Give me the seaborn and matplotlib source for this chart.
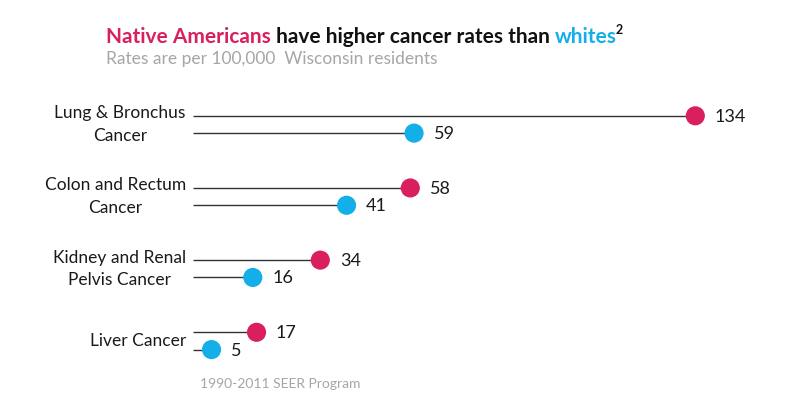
import numpy as np
import pandas as pd
import matplotlib
matplotlib.use('Agg')
import matplotlib.pyplot as plt
import seaborn as sns

sns.set_style('white')
plt.rcParams['font.family'] = ['Lato', 'DejaVu Sans']

# data
cancers = ['Lung & Bronchus\nCancer', 'Colon and Rectum\nCancer',
           'Kidney and Renal\nPelvis Cancer', 'Liver Cancer']
native = [134, 58, 34, 17]
white = [59, 41, 16, 5]

RED = '#DA1F5E'
BLUE = '#14AEE8'
LINE = '#333333'
GRAY = '#A6A6A6'

idx = np.arange(len(cancers))
df = pd.DataFrame({
    'rate': native + white,
    'pos': list(idx - 0.12) + list(idx + 0.12),
    'group': ['Native Americans'] * len(native) + ['Whites'] * len(white),
})

fig = plt.figure(figsize=(8, 4.1), dpi=100)
ax = fig.add_axes([0.241, 0.078, 0.75, 0.704])

ax.hlines(df['pos'], 0, df['rate'], color=LINE, lw=1.0, zorder=1)
sns.scatterplot(data=df, x='rate', y='pos', hue='group',
                palette=[RED, BLUE], s=190, edgecolor='none',
                legend=False, zorder=3, ax=ax)

for r, p in zip(df['rate'], df['pos']):
    ax.annotate(str(r), (r, p), xytext=(14, 0), textcoords='offset points',
                va='center', ha='left', fontsize=13, color='#1a1a1a')

ax.set_xlim(0, 160)
ax.set_ylim(3.5, -0.5)
# labels sit a little above the pair centre
shift = [-0.08 if '\n' in c else -0.04 for c in cancers]
ax.set_yticks(idx + np.array(shift))
ax.set_yticklabels(cancers, fontsize=12.5, color='#1a1a1a',
                   multialignment='center', linespacing=1.5)
ax.tick_params(axis='y', length=0, pad=5)
ax.set_xticks([])
ax.set_xlabel('')
ax.set_ylabel('')
for s in ax.spines.values():
    s.set_visible(False)

# title in pieces with different colours
fig.canvas.draw()
r = fig.canvas.get_renderer()
x0 = 106 / 800
ty = 1 - 43 / 410
parts = [('Native Americans', RED), (' have higher cancer rates than ', '#111111'),
         ('whites', BLUE)]
x = x0
for txt, col in parts:
    t = fig.text(x, ty, txt, color=col, fontsize=15, fontweight='bold',
                 ha='left', va='baseline')
    bb = t.get_window_extent(renderer=r)
    x = bb.x1 / fig.bbox.width
fig.text(x - 0.001, ty + 0.022, '2', color='#111111', fontsize=9,
         fontweight='bold', ha='left', va='baseline')

fig.text(x0, 1 - 64 / 410, 'Rates are per 100,000  Wisconsin residents',
         color=GRAY, fontsize=12.5, ha='left', va='baseline')
fig.text(200 / 800, 1 - 388 / 410, '1990-2011 SEER Program',
         color=GRAY, fontsize=10, ha='left', va='baseline')

fig.savefig('out.png', dpi=100)
